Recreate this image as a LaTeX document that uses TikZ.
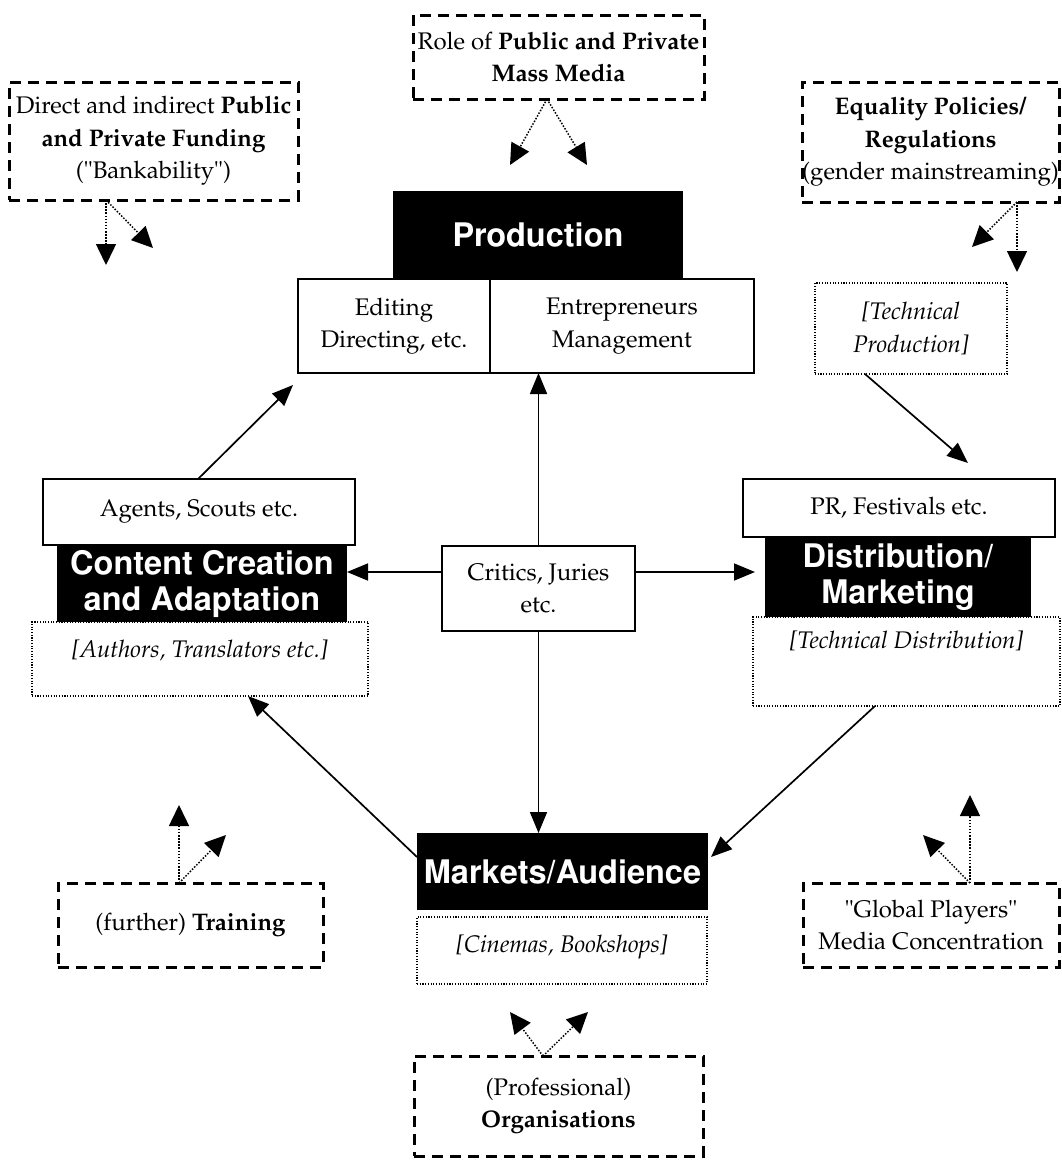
\documentclass[tikz,border=0pt]{standalone}
\usepackage[T1]{fontenc}
\usepackage{mathpazo}
\usepackage{helvet}
\usetikzlibrary{arrows.meta}
\tikzset{
  txt/.style={font=\fontsize{24}{32.5}\selectfont, align=center},
  hdr/.style={fill=black, text=white, inner sep=0pt, outer sep=0pt,
    font=\fontsize{32.5}{36}\selectfont\sffamily\bfseries, align=center},
  wbox/.style={txt, draw, line width=1.8pt, inner sep=0pt, outer sep=0pt},
  dbox/.style={txt, draw, line width=3pt, dash pattern=on 11pt off 7pt, inner sep=0pt, outer sep=0pt},
  obox/.style={txt, draw, line width=1.1pt, dash pattern=on 1.1pt off 1.6pt, inner sep=0pt, outer sep=0pt},
  arr/.style={-{Triangle[length=21pt,width=17pt]}, line width=1.7pt},
  darr/.style={-{Triangle[length=21pt,width=20pt]}, line width=1.5pt, dash pattern=on 1.5pt off 1.6pt},
}
\begin{document}
\begin{tikzpicture}[x=1pt,y=-1pt]
\useasboundingbox (0,0) rectangle (1061,1160);

% dashed context boxes
\node[dbox, minimum width=289pt, minimum height=118pt] (fund) at (153.5,141)
  {Direct and indirect \textbf{Public}\\ \textbf{and Private Funding}\\ ("Bankability")};
\node[dbox, minimum width=291pt, minimum height=84pt] (media) at (558.5,57)
  {Role of \textbf{Public and Private}\\ \textbf{Mass Media}};
\node[dbox, minimum width=257pt, minimum height=120pt] (equal) at (930.5,142)
  {\textbf{Equality Policies/}\\ \textbf{Regulations}\\ (gender mainstreaming)};
\node[dbox, minimum width=265pt, minimum height=84pt] (train) at (190.5,925)
  {(further) \textbf{Training}};
\node[dbox, minimum width=256pt, minimum height=84pt] (global) at (931,925)
  {"Global Players"\\ Media Concentration};
\node[dbox, minimum width=289pt, minimum height=100pt] (org) at (558.5,1106)
  {(Professional)\\ \textbf{Organisations}};

% production
\node[wbox, minimum width=192pt, minimum height=94pt] (editing) at (394,326)
  {Editing\\ Directing, etc.};
\node[wbox, minimum width=264pt, minimum height=94pt] (entre) at (622,326)
  {Entrepreneurs\\ Management};
\node[hdr, minimum width=290pt, minimum height=88pt] (prod) at (538,235) {Production};
\node[obox, minimum width=192pt, minimum height=91pt] (techprod) at (911,328.5)
  {\itshape [Technical\\ \itshape Production]};

% content creation
\node[wbox, minimum width=312pt, minimum height=66pt] (agents) at (199,512)
  {Agents, Scouts etc.};
\node[hdr, minimum width=290pt, minimum height=77pt] (content) at (202,583.5)
  {Content Creation\\ and Adaptation};
\node[obox, minimum width=336pt, minimum height=74pt] (authors) at (200,659) {};
\node[txt, anchor=base] (authorsT) at (200,657) {\itshape [Authors, Translators etc.]};

% critics
\node[wbox, minimum width=193pt, minimum height=85pt] (critics) at (538.5,588.5)
  {Critics, Juries\\ etc.};

% distribution
\node[wbox, minimum width=312pt, minimum height=58pt] (pr) at (899,508)
  {PR, Festivals etc.};
\node[hdr, minimum width=266pt, minimum height=80pt] (dist) at (898,577)
  {Distribution/\\ Marketing};
\node[obox, minimum width=307pt, minimum height=89pt] (techdist) at (906.5,661.5) {};
\node[txt, anchor=base] (techdistT) at (906.5,648) {\itshape [Technical Distribution]};

% markets
\node[hdr, minimum width=291pt, minimum height=77pt] (markets) at (562.5,871.5)
  {Markets/Audience};
\node[obox, minimum width=290pt, minimum height=67pt] (cinemas) at (562,950.5) {};
\node[txt, anchor=base] (cinemasT) at (562,952) {\itshape [Cinemas, Bookshops]};

% free ends of the influence arrows
\coordinate (f1) at (106,265);
\coordinate (f2) at (153,248);
\coordinate (m1) at (510,165);
\coordinate (m2) at (587,165);
\coordinate (e1) at (972,247);
\coordinate (e2) at (1017,272);
\coordinate (t1) at (179,805);
\coordinate (t2) at (226,835);
\coordinate (g1) at (970,795);
\coordinate (g2) at (923,835);
\coordinate (o1) at (510,1012);
\coordinate (o2) at (588,1012);
\coordinate (aTip) at (293,385);
\coordinate (tpTip) at (968,463);

% dotted influence arrows
\draw[darr] (106,0 |- fund.south) -- (f1);
\draw[darr] (106,0 |- fund.south) -- (f2);
\draw[darr] (547,0 |- media.south) -- (m1);
\draw[darr] (547,0 |- media.south) -- (m2);
\draw[darr] (1017,0 |- equal.south) -- (e1);
\draw[darr] (1017,0 |- equal.south) -- (e2);
\draw[darr] (179,0 |- train.north) -- (t1);
\draw[darr] (179,0 |- train.north) -- (t2);
\draw[darr] (970,0 |- global.north) -- (g1);
\draw[darr] (970,0 |- global.north) -- (g2);
\draw[darr] (543,0 |- org.north) -- (o1);
\draw[darr] (543,0 |- org.north) -- (o2);

% main flow arrows
\draw[arr] (198,0 |- agents.north) -- (aTip);
\draw[arr] (865,0 |- techprod.south) -- (tpTip);
\draw[arr] (critics.north) -- (critics.north |- entre.south);
\draw[arr] (critics.west |- 0,572) -- (content.east |- 0,572);
\draw[arr] (critics.east |- 0,572) -- ([xshift=-10pt]dist.west |- 0,572);
\draw[arr] (critics.south) -- (critics.south |- markets.north);
\draw[arr] (markets.west |- 0,857) -- (248,0 |- authors.south);
\draw[arr] (875,0 |- techdist.south) -- ([xshift=3pt]markets.east |- 0,857);
\end{tikzpicture}
\end{document}
